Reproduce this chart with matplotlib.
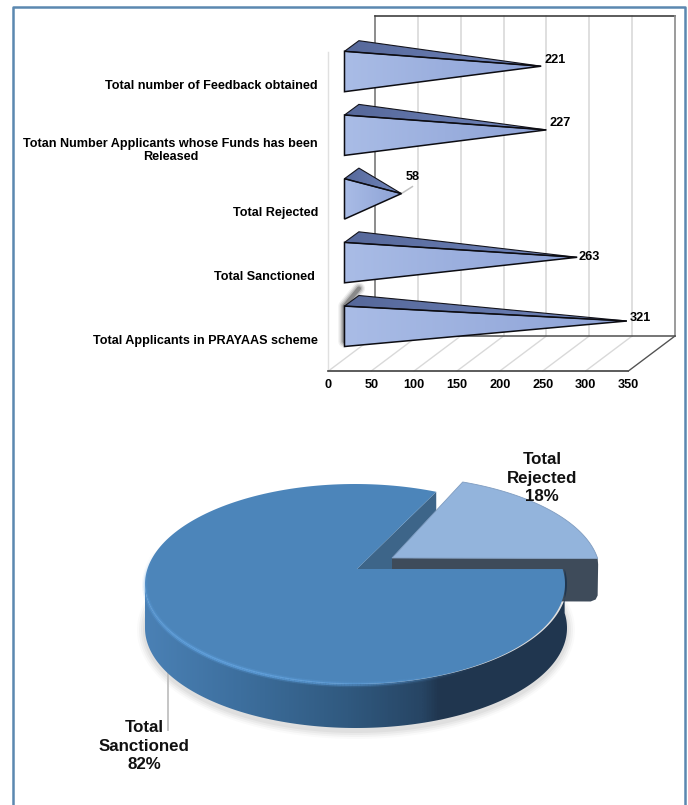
import numpy as np
import matplotlib
matplotlib.use("Agg")
import matplotlib.pyplot as plt
from matplotlib.colors import LinearSegmentedColormap
from matplotlib.patches import Polygon

plt.rcParams['font.family'] = ['Liberation Sans', 'DejaVu Sans']

# bar data, top to bottom on the picture
categories = ["Total number of Feedback obtained",
              "Totan Number Applicants whose Funds has been\nReleased",
              "Total Rejected",
              "Total Sanctioned ",
              "Total Applicants in PRAYAAS scheme"]
values = [221, 227, 58, 263, 321]
x_ticks = [0, 50, 100, 150, 200, 250, 300, 350]

# pie data
pie_labels = ["Total\nRejected\n18%", "Total\nSanctioned\n82%"]
pie_shares = [18, 82]

fig = plt.figure(figsize=(6.88, 8.05), dpi=100)

# pixel axes for the frame and the pie
ax = fig.add_axes([0, 0, 1, 1])
ax.set_xlim(0, 688)
ax.set_ylim(805, 0)
ax.axis("off")

ax.plot([13, 13, 685, 685], [805, 7, 7, 805], color="#5b88b0", lw=1.8, zorder=1)

# bar axes: x is the value, y the category row (row 0 = lowest bar)
k = 300 / 350       # px per value
row_h = 63.7        # px per row
x0_px = 351.7
y0_px = 321.0
bx = fig.add_axes([0, 0, 1, 1])
bx.set_xlim((0 - x0_px) / k, (688 - x0_px) / k)
bx.set_ylim((y0_px - 805) / row_h, (y0_px - 0) / row_h)
bx.axis("off")
bx.patch.set_alpha(0)


def px(dx):
    return dx / k


def py(dy):
    return -dy / row_h


# chart box, floor runs from the front edge to the back wall
dep_x = 23.3
top_row = py(16 - y0_px)
back_y = py(336 - y0_px)
front_y = py(371 - y0_px)
for v in x_ticks:
    xb = v + px(dep_x)
    xf = v - px(dep_x)
    bx.plot([xb, xb], [back_y, top_row], color="#d9d9d9", lw=1.2, zorder=1)
    bx.plot([xf, xb], [front_y, back_y], color="#d9d9d9", lw=1, zorder=1)
    bx.text(xf, py(385 - y0_px), str(v), ha="center", va="center",
            fontsize=9.2, fontweight="bold", color="black")

xl_b, xr_b = x_ticks[0] + px(dep_x), x_ticks[-1] + px(dep_x)
xl_f, xr_f = x_ticks[0] - px(dep_x), x_ticks[-1] - px(dep_x)
bx.plot([xl_b, xl_b], [back_y, top_row], color="#808080", lw=1.2, zorder=2)
bx.plot([xl_b, xr_b], [top_row, top_row], color="#404040", lw=1.2, zorder=2)
bx.plot([xr_b, xr_b], [top_row, back_y], color="#909090", lw=1.2, zorder=2)
bx.plot([xl_b, xr_b], [back_y, back_y], color="#505050", lw=1.1, zorder=2)
bx.plot([xl_f, xr_f], [front_y, front_y], color="#404040", lw=1.2, zorder=2)
bx.plot([xr_f, xr_b], [front_y, back_y], color="#505050", lw=0.9, zorder=2)
bx.plot([xl_f, xl_f], [front_y, py(52 - y0_px)], color="#e0e0e0", lw=1, zorder=1)

face_cm = LinearSegmentedColormap.from_list("f", ["#a9bce6", "#8da2d6"])
top_cm = LinearSegmentedColormap.from_list("t", ["#56689a", "#7186bd"])
half_w, half_h, top_dy = 7.2, 20.2, 5.3


def grad_poly(a, pts, cmap, z):
    pts = np.array(pts)
    poly = Polygon(pts, closed=True, fc="none", ec="none", transform=a.transData)
    a.add_patch(poly)
    im = a.imshow(np.linspace(0, 1, 64).reshape(1, -1), cmap=cmap, aspect="auto",
                  extent=(pts[:, 0].min(), pts[:, 0].max(), pts[:, 1].min(), pts[:, 1].max()),
                  zorder=z, interpolation="bilinear")
    im.set_clip_path(poly)


xlim_b, ylim_b = bx.get_xlim(), bx.get_ylim()
# label nudges in px: right of the tip, up from the tip
label_dx = [3, 3.5, 11, 1, 3]
label_dy = [6.5, 6.5, 17, 0, 3.5]
for i, (name, val) in enumerate(zip(categories, values)):
    row = len(values) - 1 - i
    fx = -px(half_w)
    bk = px(half_w)
    front_t = (fx, row - py(half_h - top_dy))
    front_b = (fx, row + py(half_h + top_dy))
    back_t = (bk, row - py(half_h + top_dy))
    apex = (val, row)
    if i == 4:
        # selected bar gets a soft dark edge
        for w, al in [(9, 0.06), (7, 0.1), (5, 0.14), (3, 0.25)]:
            bx.plot([front_b[0], front_t[0], back_t[0]], [front_b[1] - py(5), front_t[1], back_t[1] - py(7)],
                    color="black", lw=w, alpha=al, zorder=3, solid_capstyle="round")
    grad_poly(bx, [front_t, back_t, apex], top_cm, 4)
    grad_poly(bx, [front_t, front_b, apex], face_cm, 4)
    bx.add_patch(Polygon([front_t, back_t, apex], closed=True, fc="none", ec="#14141c", lw=0.8, zorder=5))
    bx.add_patch(Polygon([front_t, front_b, apex], closed=True, fc="none", ec="#0c0c12", lw=1.1, zorder=5))
    bx.text(px(318 - x0_px), row + py(19.5 if i != 1 else 21), name, ha="right", va="center", ma="center",
            fontsize=9.1, fontweight="bold", color="black", linespacing=1.12)
    if val < 100:
        bx.plot([val, val + px(11)], [row, row - py(7)], color="#c0c0c0", lw=1.1, zorder=3)
        ha = "center"
    else:
        ha = "left"
    bx.text(val + px(label_dx[i]), row - py(label_dy[i]), str(val), ha=ha, va="center",
            fontsize=9.2, fontweight="bold")

bx.set_xlim(xlim_b)
bx.set_ylim(ylim_b)

# pie, ellipse param t in degrees, ccw from +x
cx, cy, rx, ry = 355, 584, 210, 100
apex_main = (357, 569)
off_x, off_y = 35, -11
apex_rej = (apex_main[0] + off_x, apex_main[1] + off_y)
thick, thick_rej = 44, 43
t_start = 8.6
t_split = t_start + pie_shares[0] * 3.6 * 0.905


def arc(t0, t1, ox=0, oy=0, n=200, grow=0, ry_use=ry):
    t = np.radians(np.linspace(t0, t1, n))
    return np.column_stack([cx + ox + (rx + grow) * np.cos(t), cy + oy - ry_use * np.sin(t)])


# soft shadow under the pie
for grow, al in [(9, 0.02), (7, 0.03), (5, 0.035), (3, 0.04)]:
    t = np.radians(np.linspace(0, 360, 200))
    ax.fill(cx + 1 + (rx + grow) * np.cos(t), cy + thick + 2 + (ry + grow) * np.sin(t),
            color="black", alpha=al, lw=0, zorder=2)

main_arc = arc(t_split, 360 + t_start)
rej_arc = arc(t_start, t_split + 2.5, off_x, off_y, ry_use=97)
split_pt = main_arc[0]

# cut face of the big slice
ax.add_patch(Polygon([apex_main, split_pt, split_pt + [0, thick], np.array(apex_main) + [0, thick]],
                     closed=True, fc="#3d6589", ec="none", zorder=3))

# rejected slice wall and top
end_r = rej_arc[0]
corner = np.array([[end_r[0] + 0.5, end_r[1] + 6], [end_r[0], end_r[1] + thick_rej - 6],
                   [end_r[0] - 2, end_r[1] + thick_rej - 2], [end_r[0] - 7, end_r[1] + thick_rej]])
ax.add_patch(Polygon(np.vstack([[apex_rej, end_r], corner, [[apex_rej[0], apex_rej[1] + thick_rej]]]),
                     closed=True, fc="#3e4b5a", ec="none", zorder=4))
ax.add_patch(Polygon(np.vstack([[apex_rej], rej_arc]), closed=True, fc="#93b4dc", ec="#7f9cc0", lw=0.6, zorder=5))

# main slice wall with a horizontal gradient
wall_cm = LinearSegmentedColormap.from_list(
    "w", [(0, "#4a80b4"), (0.22, "#3d6f9e"), (0.48, "#30597f"), (0.66, "#274564"), (0.7, "#20364f"), (1, "#20364f")])
wall_arc = arc(180, 360 + t_start, ox=1, grow=1)
wall_pts = np.vstack([wall_arc, (wall_arc + [0, thick])[::-1]])
grad_poly(ax, wall_pts, wall_cm, 6)

# main top with bright rim on the lower left
ax.add_patch(Polygon(np.vstack([[apex_main], main_arc]), closed=True, fc="#4c85ba", ec="none", zorder=7))
rim = arc(160, 305)
for j in range(0, len(rim) - 1):
    f = np.sin(np.pi * j / (len(rim) - 1)) ** 1.2
    for lw, al in [(4, 0.25), (2, 0.7)]:
        ax.plot(rim[j:j + 2, 0], rim[j:j + 2, 1] + 0.5, color="#62a4e2", lw=lw, alpha=f * al, zorder=8,
                solid_capstyle="butt")

ax.plot([168, 168], [673, 730], color="#c0c0c0", lw=1.3, zorder=3)
ax.text(542, 478, pie_labels[0], ha="center", va="center", ma="center", fontsize=12.2, fontweight="bold",
        color="#111111", linespacing=1.28, zorder=9)
ax.text(144, 746, pie_labels[1], ha="center", va="center", ma="center", fontsize=12.2, fontweight="bold",
        color="#111111", linespacing=1.28, zorder=9)

ax.set_xlim(0, 688)
ax.set_ylim(805, 0)
fig.savefig("out.png", dpi=100, facecolor="white")
